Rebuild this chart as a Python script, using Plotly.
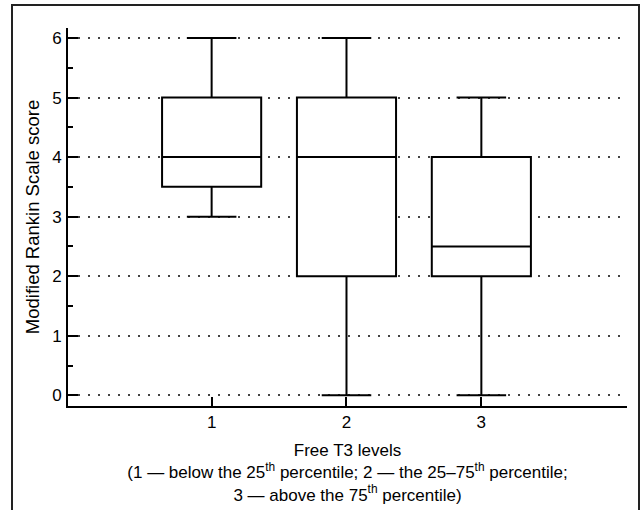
import plotly.graph_objects as go

groups = [1, 2, 3]
lower = [3, 0, 0]
q1 = [3.5, 2, 2]
median = [4, 4, 2.5]
q3 = [5, 5, 4]
upper = [6, 6, 5]
y_ticks = [0, 1, 2, 3, 4, 5, 6]

FONT = "Liberation Sans, Arial, sans-serif"

fig = go.Figure()
fig.add_trace(go.Box(
    x=groups, q1=q1, median=median, q3=q3,
    lowerfence=lower, upperfence=upper,
    width=0.735, whiskerwidth=0.5,
    fillcolor="white",
    line=dict(color="black", width=2),
    boxpoints=False, showlegend=False, hoverinfo="skip",
))

fig.update_layout(
    width=642, height=510,
    margin=dict(l=68, r=15, t=28, b=104),
    paper_bgcolor="white", plot_bgcolor="white",
    font=dict(family=FONT, size=17, color="black"),
    xaxis=dict(
        range=[-0.065, 4.08], automargin=False,
        tickvals=groups, ticktext=[str(g) for g in groups],
        ticks="inside", ticklen=9, tickwidth=2, tickcolor="black",
        showline=True, linecolor="black", linewidth=2,
        showgrid=False, zeroline=False,
        tickfont=dict(size=17),
        title=dict(
            text="Free T3 levels<br>(1 — below the 25<sup>th</sup> percentile; 2 — the 25–75<sup>th</sup> percentile;<br>3 — above the 75<sup>th</sup> percentile)",
            font=dict(size=17), standoff=13,
        ),
    ),
    yaxis=dict(
        range=[-0.18, 6.168], automargin=False,
        tickvals=y_ticks,
        ticks="inside", ticklen=10, tickwidth=2, tickcolor="black",
        showline=True, linecolor="black", linewidth=2,
        showgrid=True, gridcolor="#444444", gridwidth=1.5, griddash="2px,8px",
        zeroline=False, ticklabelstandoff=1,
        minor=dict(ticks="inside", ticklen=5, tickwidth=2, tickcolor="black", dtick=0.5, tick0=0, showgrid=False),
        tickfont=dict(size=17),
        title=dict(text="Modified Rankin Scale score", font=dict(size=18.5), standoff=8),
    ),
    shapes=[dict(
        type="rect", xref="paper", yref="paper",
        x0=(12 - 68) / 559, x1=(639 - 68) / 559,
        y0=(406 - 520) / 378, y1=(406 - 5) / 378,
        line=dict(color="#222222", width=2), fillcolor="rgba(0,0,0,0)", layer="below",
    )],
)

fig.write_html(
    "out.html",
    config={"displayModeBar": False},
    post_script="document.body.style.margin='0';document.body.style.overflow='hidden';",
)
